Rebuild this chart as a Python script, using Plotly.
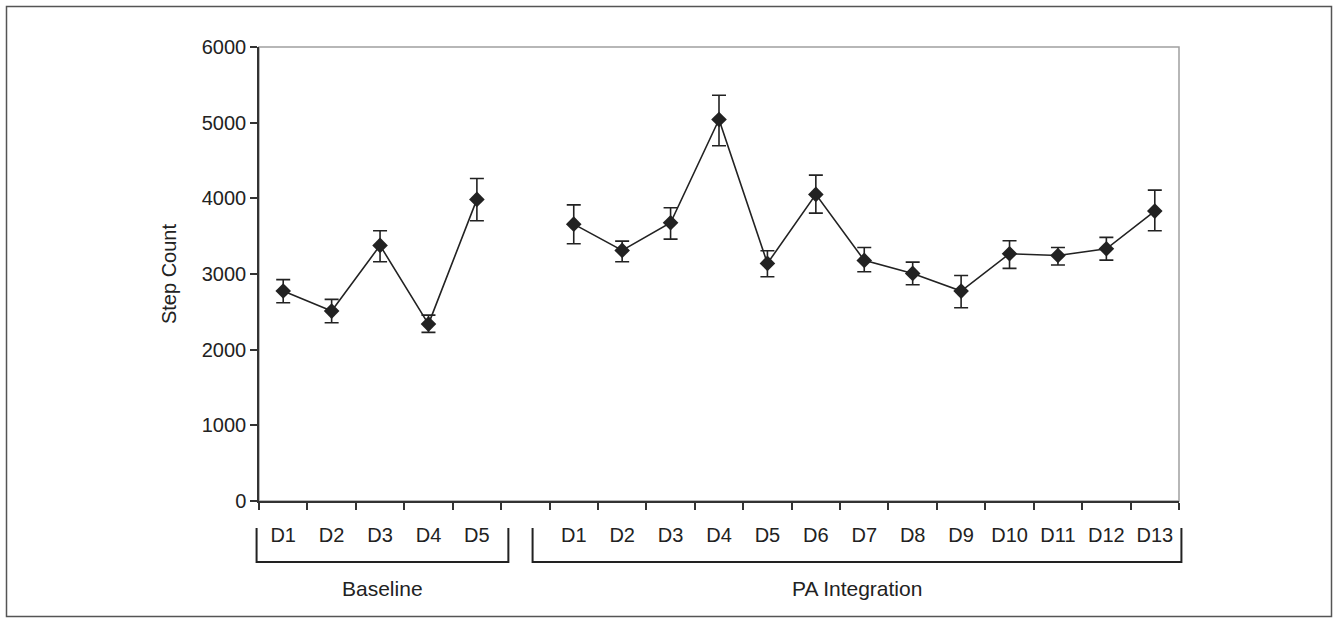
import plotly.graph_objects as go

# ---------------- data ----------------
baseline_labels = ["D1", "D2", "D3", "D4", "D5"]
baseline_mean = [2775, 2510, 3378, 2338, 3986]
baseline_err_plus = [150, 154, 193, 119, 277]
baseline_err_minus = [155, 155, 216, 109, 283]

pa_labels = ["D1", "D2", "D3", "D4", "D5", "D6", "D7", "D8", "D9", "D10", "D11", "D12", "D13"]
pa_mean = [3659, 3312, 3677, 5042, 3140, 4052, 3180, 3008, 2774, 3268, 3245, 3333, 3831]
pa_err_plus = [255, 123, 198, 321, 167, 255, 171, 149, 207, 171, 106, 151, 277]
pa_err_minus = [260, 150, 216, 348, 177, 247, 151, 151, 220, 194, 127, 149, 260]

group_names = ["Baseline", "PA Integration"]
y_ticks = [0, 1000, 2000, 3000, 4000, 5000, 6000]

# ---------------- layout geometry ----------------
W, H = 1333, 624
L, R, T, B = 259, 154, 47, 123
PW, PH = W - L - R, H - T - B

def px_to_paper_x(px):
    return (px - L) / PW

def px_to_paper_y(py):
    return (H - B - py) / PH

n_base = len(baseline_labels)
n_pa = len(pa_labels)
gap = 1
n_total = n_base + gap + n_pa

def data_to_paper_x(xv):
    return xv / n_total

x_base = [i + 0.5 for i in range(n_base)]
x_pa = [n_base + gap + i + 0.5 for i in range(n_pa)]

ink = "#222222"

fig = go.Figure()

for xs, ys, ep, em in [(x_base, baseline_mean, baseline_err_plus, baseline_err_minus),
                       (x_pa, pa_mean, pa_err_plus, pa_err_minus)]:
    fig.add_trace(go.Scatter(
        x=xs, y=ys, mode="lines+markers",
        line=dict(color=ink, width=1.6),
        marker=dict(symbol="diamond", size=12, color=ink),
        error_y=dict(type="data", symmetric=False, array=ep, arrayminus=em,
                     color=ink, thickness=1.6, width=7),
        showlegend=False, hoverinfo="y",
    ))

fig.update_layout(
    width=W, height=H,
    margin=dict(l=L, r=R, t=T, b=B, autoexpand=False),
    paper_bgcolor="white", plot_bgcolor="white",
    font=dict(family="Liberation Sans, Arial, sans-serif", size=20, color=ink),
    xaxis=dict(
        range=[0, n_total], showgrid=False, zeroline=False,
        showline=True, linecolor="#333333", linewidth=1.5,
        tickmode="array", tickvals=x_base + x_pa, ticktext=baseline_labels + pa_labels,
        ticks="", ticklabelstandoff=15,
        minor=dict(ticks="outside", tickmode="array", tickvals=list(range(n_total + 1)),
                   ticklen=7, tickwidth=1.5, tickcolor="#333333", showgrid=False),
        fixedrange=True,
    ),
    yaxis=dict(
        range=[0, 6000], showgrid=False, zeroline=False,
        showline=True, linecolor="#333333", linewidth=1.5,
        tickmode="array", tickvals=y_ticks,
        ticks="outside", ticklen=7, tickwidth=1.5, tickcolor="#333333",
        title=dict(text="Step Count", standoff=20, font=dict(size=20)),
        fixedrange=True,
    ),
)

shapes = []
# plot-area frame (light grey top / right)
shapes.append(dict(type="rect", xref="paper", yref="paper", x0=0, x1=1, y0=0, y1=1,
                   line=dict(color="#a0a0a0", width=1.5), layer="below"))
# outer figure border
shapes.append(dict(type="rect", xref="paper", yref="paper",
                   x0=px_to_paper_x(6.5), x1=px_to_paper_x(1331.5),
                   y0=px_to_paper_y(616.5), y1=px_to_paper_y(6.5),
                   line=dict(color="#555555", width=1.5), layer="below"))

# group brackets
y_top = px_to_paper_y(528)
y_bot = px_to_paper_y(562)
groups = [(0 - 0.05, n_base + 0.15), (n_base + 0.65, n_total + 0.05)]
for (gx0, gx1), name in zip(groups, group_names):
    p0, p1 = data_to_paper_x(gx0), data_to_paper_x(gx1)
    shapes.append(dict(type="path", xref="paper", yref="paper",
                       path=f"M {p0},{y_top} L {p0},{y_bot} L {p1},{y_bot} L {p1},{y_top}",
                       line=dict(color=ink, width=2)))
    fig.add_annotation(x=(p0 + p1) / 2, y=px_to_paper_y(588), xref="paper", yref="paper",
                       text=name, showarrow=False, font=dict(size=21, color=ink),
                       yanchor="middle", xanchor="center")

fig.update_layout(shapes=shapes)

fig.write_html("out.html", config={"displayModeBar": False},
               post_script="document.body.style.margin='0';document.body.style.overflow='hidden';")
